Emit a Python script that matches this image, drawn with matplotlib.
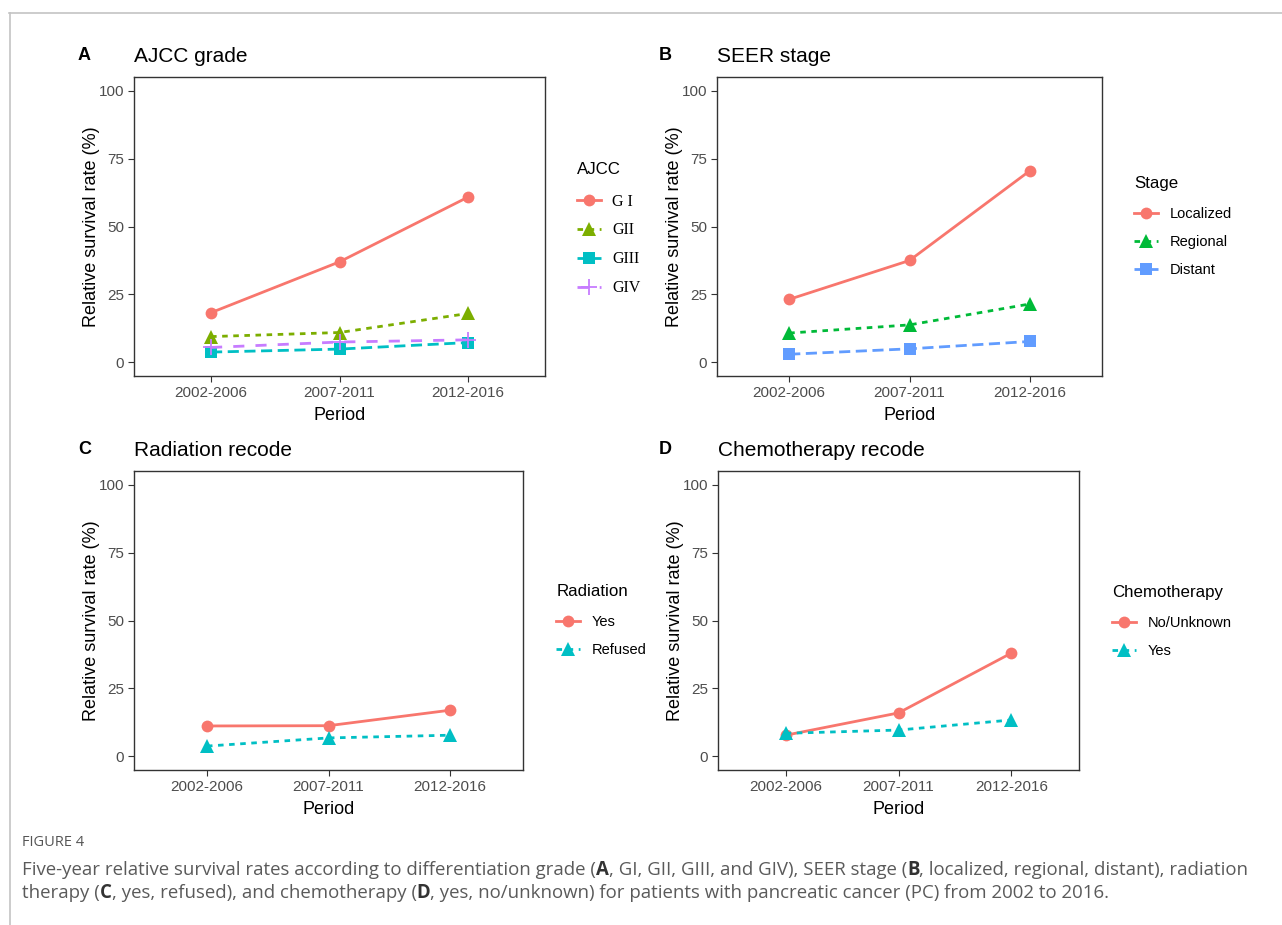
import numpy as np
import matplotlib
matplotlib.use("Agg")
import matplotlib.pyplot as plt
from matplotlib.lines import Line2D

# Data
periods = ["2002-2006", "2007-2011", "2012-2016"]

ajcc_labels = ["G I", "GII", "GIII", "GIV"]
ajcc_gi = [18.3, 37.0, 60.8]
ajcc_gii = [9.5, 11.0, 18.0]
ajcc_giii = [3.8, 4.9, 7.3]
ajcc_giv = [5.5, 7.5, 8.3]

stage_labels = ["Localized", "Regional", "Distant"]
stage_localized = [23.2, 37.5, 70.5]
stage_regional = [10.8, 13.8, 21.5]
stage_distant = [3.0, 5.0, 7.7]

radiation_labels = ["Yes", "Refused"]
radiation_yes = [11.2, 11.3, 17.0]
radiation_refused = [3.8, 6.8, 7.8]

chemo_labels = ["No/Unknown", "Yes"]
chemo_no = [7.8, 16.0, 38.0]
chemo_yes = [8.5, 9.7, 13.4]

W, H = 1282, 925
fig = plt.figure(figsize=(W / 100, H / 100), dpi=100)
plt.rcParams['font.family'] = ['Liberation Sans', 'DejaVu Sans']

hue4 = ["#F8766D", "#7CAE00", "#00BFC4", "#C77CFF"]
hue3 = ["#F8766D", "#00BA38", "#619CFF"]
hue2 = ["#F8766D", "#00BFC4"]
ltypes = ["-", (0, (2, 2)), (0, (4, 2)), (0, (4, 4))]
markers = ["o", "^", "s", "+"]
msizes = [8.5, 10, 8.5, 11]


def px_axes(l, r, t, b):
    return fig.add_axes([l / W, 1 - b / H, (r - l) / W, (b - t) / H])


def draw_panel(ax, series, labels, colors, letter, title, legend_title,
               leg_xy, title_y, letter_x, label_font=None, spacing=0.95,
               title_gap=1.5):
    x = np.arange(1, len(periods) + 1)
    handles = []
    for i, (vals, lab) in enumerate(zip(series, labels)):
        h, = ax.plot(x, vals, color=colors[i], linestyle=ltypes[i],
                     marker=markers[i], markersize=msizes[i], lw=2.0,
                     markeredgewidth=1.3 if markers[i] == "+" else 0,
                     label=lab)
        handles.append(h)
    ax.set_xlim(0.4, 3.6)
    ax.set_ylim(-5, 105)
    ax.set_xticks(x)
    ax.set_xticklabels(periods)
    ax.set_yticks([0, 25, 50, 75, 100])
    ax.tick_params(colors="#333333", labelcolor="#4D4D4D", labelsize=11,
                   length=4, width=0.8, pad=3)
    for s in ax.spines.values():
        s.set_color("#333333")
        s.set_linewidth(1.0)
    ax.set_xlabel("Period", fontsize=13, labelpad=5)
    ax.set_ylabel("Relative survival rate (%)", fontsize=13, labelpad=-1)
    bb = ax.get_position()
    fig.text(letter_x / W, 1 - title_y / H, letter, fontsize=13,
             fontweight="bold", va="center", ha="left")
    fig.text(bb.x0, 1 - title_y / H, title, fontsize=15, va="center", ha="left")
    leg = ax.legend(handles=handles, title=legend_title, loc="upper left",
                    bbox_to_anchor=(leg_xy[0] / W, 1 - leg_xy[1] / H),
                    bbox_transform=fig.transFigure, frameon=False,
                    fontsize=10.5, title_fontsize=12.2, borderpad=0,
                    handlelength=1.6, handletextpad=0.8, labelspacing=spacing,
                    alignment="left")
    # a little more room between legend title and first key
    leg._legend_box.sep = spacing * 10.5 + title_gap
    if label_font:
        for t in leg.get_texts():
            t.set_fontfamily(label_font)
            t.set_fontsize(11.5)
    return ax


axA = px_axes(134, 545, 77, 376)
draw_panel(axA, [ajcc_gi, ajcc_gii, ajcc_giii, ajcc_giv], ajcc_labels, hue4,
           "A", "AJCC grade", "AJCC", (570, 155), 56, 78,
           label_font="Liberation Serif", spacing=0.88, title_gap=2.5)

axB = px_axes(717, 1102, 77, 376)
draw_panel(axB, [stage_localized, stage_regional, stage_distant], stage_labels,
           hue3, "B", "SEER stage", "Stage", (1127, 169), 56, 659)

axC = px_axes(134, 523, 471, 770)
draw_panel(axC, [radiation_yes, radiation_refused], radiation_labels, hue2,
           "C", "Radiation recode", "Radiation", (549, 577), 450, 78)

axD = px_axes(718, 1079, 471, 770)
draw_panel(axD, [chemo_no, chemo_yes], chemo_labels, hue2,
           "D", "Chemotherapy recode", "Chemotherapy", (1105, 578), 450, 659)

# page frame lines
fig.add_artist(Line2D([9 / W, 1], [1 - 12.5 / H, 1 - 12.5 / H],
                      transform=fig.transFigure, color="#C4C4C4", lw=1.2))
fig.add_artist(Line2D([9.5 / W, 9.5 / W], [0, 1 - 12.5 / H],
                      transform=fig.transFigure, color="#C4C4C4", lw=1.2))

# caption
cap_font = "Open Sans"
fig.text(22 / W, 1 - 843 / H, "FIGURE 4", fontsize=10.5, color="#555555",
         family=cap_font, va="center")

renderer = fig.canvas.get_renderer()


def draw_segments(x_px, y_px, segments):
    x = x_px
    for txt, bold in segments:
        t = fig.text(x / W, 1 - y_px / H, txt, fontsize=13.4, family=cap_font,
                     color="#333333" if bold else "#5A5A5A",
                     fontweight="bold" if bold else "normal", va="center")
        ext = t.get_window_extent(renderer=renderer)
        x += ext.width


draw_segments(22, 870, [
    ("Five-year relative survival rates according to differentiation grade (", False),
    ("A", True),
    (", GI, GII, GIII, and GIV), SEER stage (", False),
    ("B", True),
    (", localized, regional, distant), radiation", False),
])
draw_segments(22, 893, [
    ("therapy (", False),
    ("C", True),
    (", yes, refused), and chemotherapy (", False),
    ("D", True),
    (", yes, no/unknown) for patients with pancreatic cancer (PC) from 2002 to 2016.", False),
])

fig.savefig("out.png", dpi=100)
